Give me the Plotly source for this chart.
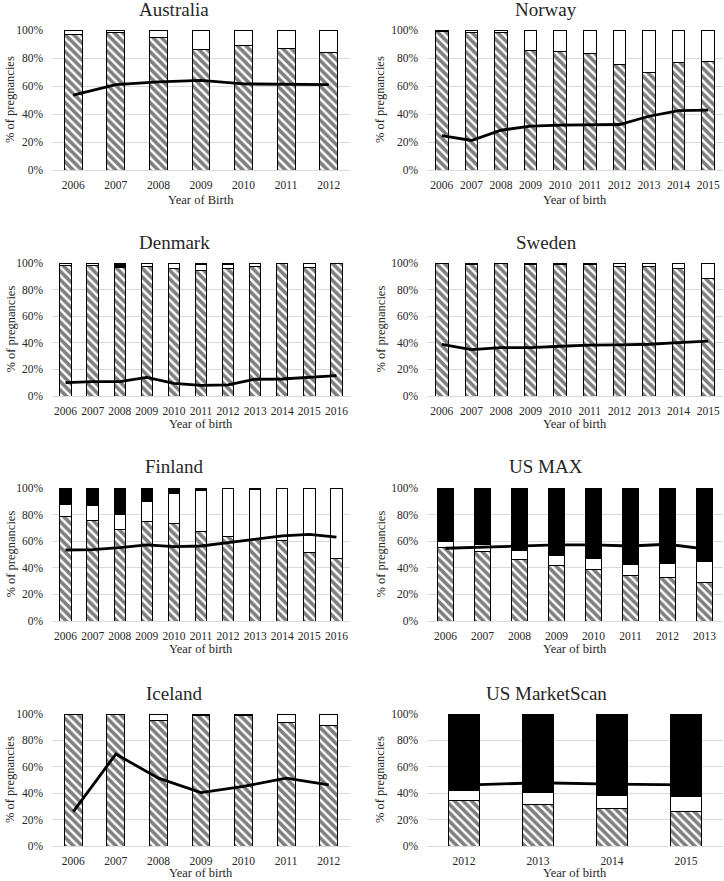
import plotly.graph_objects as go

# ---------------- data ----------------
au_years = ["2006", "2007", "2008", "2009", "2010", "2011", "2012"]
au_hatched = [97, 98.5, 94.5, 86, 89, 87, 84]
au_white = [3, 1.5, 5.5, 14, 11, 13, 16]
au_black = [0, 0, 0, 0, 0, 0, 0]
au_line = [53.5, 61, 63, 64, 61.5, 61.5, 61]

no_years = ["2006", "2007", "2008", "2009", "2010", "2011", "2012", "2013", "2014", "2015"]
no_hatched = [99, 98.5, 98.5, 85.5, 85, 83, 75.5, 69.5, 77, 77.5]
no_white = [1, 1.5, 1.5, 14.5, 15, 17, 24.5, 30.5, 23, 22.5]
no_black = [0, 0, 0, 0, 0, 0, 0, 0, 0, 0]
no_line = [24.6, 21.1, 28.4, 31.3, 32, 32, 32.5, 38.4, 42.4, 42.7]

dk_years = ["2006", "2007", "2008", "2009", "2010", "2011", "2012", "2013", "2014", "2015", "2016"]
dk_hatched = [98.5, 98, 96.5, 97.5, 95.5, 94.5, 95.5, 97.5, 99.5, 96.5, 99.5]
dk_white = [1.5, 1.5, 1, 2, 4.5, 4.5, 3.5, 2.5, 0.5, 3.5, 0.5]
dk_black = [0, 0.5, 2.5, 0.5, 0, 1, 1, 0, 0, 0, 0]
dk_line = [10, 10.8, 10.8, 14, 9.5, 8, 8.3, 12.6, 12.8, 14.3, 15.3]

se_years = ["2006", "2007", "2008", "2009", "2010", "2011", "2012", "2013", "2014", "2015"]
se_hatched = [99.5, 99, 99.5, 99, 99, 99, 97.5, 97.5, 96, 88.5]
se_white = [0.5, 1, 0.5, 1, 1, 1, 2.5, 2.5, 4, 11.5]
se_black = [0, 0, 0, 0, 0, 0, 0, 0, 0, 0]
se_line = [38.9, 34.9, 36.4, 36.4, 37.4, 38.2, 38.4, 38.9, 40.2, 41.2]

fi_years = ["2006", "2007", "2008", "2009", "2010", "2011", "2012", "2013", "2014", "2015", "2016"]
fi_hatched = [78.6, 75.6, 69, 74.8, 73.3, 67.3, 63.2, 61, 60.5, 51.4, 47.1]
fi_white = [9.1, 11.6, 11.4, 14.9, 22.2, 31.2, 36.8, 38, 39.5, 48.6, 52.9]
fi_black = [12.3, 12.8, 19.6, 10.3, 4.5, 1.5, 0, 1, 0, 0, 0]
fi_line = [53.4, 53.7, 55.2, 57.2, 55.9, 56.4, 58.9, 61.5, 64, 65.2, 63]

us_years = ["2006", "2007", "2008", "2009", "2010", "2011", "2012", "2013"]
us_hatched = [55.4, 52.6, 46.6, 42.1, 39, 34.5, 32.5, 29.2]
us_white = [4.6, 4.8, 6.5, 7.3, 7.9, 8.3, 10.8, 15.6]
us_black = [40, 42.6, 46.9, 50.6, 53.1, 57.2, 56.7, 55.2]
us_line = [54.7, 55.4, 56.4, 57.2, 57.2, 56.4, 57.7, 54.2]

is_years = ["2006", "2007", "2008", "2009", "2010", "2011", "2012"]
is_hatched = [100, 100, 95.4, 98.7, 98.7, 93.2, 91.1]
is_white = [0, 0, 4.6, 1.3, 1.3, 6.8, 8.9]
is_black = [0, 0, 0, 0, 0, 0, 0]
is_line = [26.1, 69.6, 51.4, 40.5, 45.1, 51.4, 46.3]

ms_years = ["2012", "2013", "2014", "2015"]
ms_hatched = [34.5, 31.5, 28.2, 25.9]
ms_white = [7.6, 9.3, 10.3, 11.6]
ms_black = [57.9, 59.2, 61.5, 62.5]
ms_line = [46.1, 47.9, 46.9, 46.3]

y_tick_vals = [0, 20, 40, 60, 80, 100]
y_tick_text = ["0%", "20%", "40%", "60%", "80%", "100%"]

panels = [
    ("Australia", "Year of Birth", au_years, au_hatched, au_white, au_black, au_line),
    ("Norway", "Year of birth", no_years, no_hatched, no_white, no_black, no_line),
    ("Denmark", "Year of birth", dk_years, dk_hatched, dk_white, dk_black, dk_line),
    ("Sweden", "Year of birth", se_years, se_hatched, se_white, se_black, se_line),
    ("Finland", "Year of birth", fi_years, fi_hatched, fi_white, fi_black, fi_line),
    ("US MAX", "Year of birth", us_years, us_hatched, us_white, us_black, us_line),
    ("Iceland", "Year of birth", is_years, is_hatched, is_white, is_black, is_line),
    ("US MarketScan", "Year of birth", ms_years, ms_hatched, ms_white, ms_black, ms_line),
]

# ---------------- layout geometry (pixels) ----------------
W, H = 724, 881
col_x = [(52, 350), (427, 723)]
row_y = [(30, 170), (263, 396), (488, 621), (714, 846)]
xtitle_offs = [30, 28, 28, 27]
title_off = 21

FONT = "Liberation Serif"
TXT = "#262626"

fig = go.Figure()
annotations = []
layout_axes = {}

for i, (name, xt, yrs, hat, wht, blk, ln) in enumerate(panels):
    r, c = divmod(i, 2)
    k = i + 1
    xa = "x" if k == 1 else f"x{k}"
    ya = "y" if k == 1 else f"y{k}"
    x0, x1 = col_x[c]
    yt, yb = row_y[r]
    common = dict(xaxis=xa, yaxis=ya, showlegend=False, hoverinfo="skip")
    fig.add_trace(go.Bar(
        x=yrs, y=hat,
        marker=dict(color="white", line=dict(color="black", width=1),
                    pattern=dict(shape="\\", fgcolor="black", bgcolor="white",
                                 size=6, solidity=0.6)),
        **common))
    fig.add_trace(go.Bar(
        x=yrs, y=wht,
        marker=dict(color="white", line=dict(color="black", width=1)),
        **common))
    fig.add_trace(go.Bar(
        x=yrs, y=blk,
        marker=dict(color="black", line=dict(color="black", width=1)),
        **common))
    fig.add_trace(go.Scatter(
        x=yrs, y=ln, mode="lines",
        line=dict(color="black", width=2.8),
        **common))

    layout_axes["xaxis" if k == 1 else f"xaxis{k}"] = dict(
        domain=[x0 / W, x1 / W], anchor=ya, type="category", automargin=False,
        showgrid=False, showline=True, linecolor="#d9d9d9", linewidth=1,
        ticks="", tickfont=dict(family=FONT, size=11.5, color=TXT),
        ticklabelstandoff=4)
    layout_axes["yaxis" if k == 1 else f"yaxis{k}"] = dict(
        domain=[1 - yb / H, 1 - yt / H], anchor=xa, range=[0, 100],
        automargin=False,
        tickmode="array", tickvals=y_tick_vals, ticktext=y_tick_text,
        showgrid=True, gridcolor="#d9d9d9",
        gridwidth=1, zeroline=False, showline=False, ticks="",
        tickfont=dict(family=FONT, size=11.5, color=TXT),
        ticklabelstandoff=8)

    # panel title, centered on the chart area
    chart_cx = (c * 362 + 174 + (10 if c == 1 else 0)) / W
    annotations.append(dict(
        text=name, x=chart_cx, y=1 - (yt - title_off) / H,
        xref="paper", yref="paper", showarrow=False,
        xanchor="center", yanchor="middle",
        font=dict(family=FONT, size=19, color=TXT)))
    # x axis title
    annotations.append(dict(
        text=xt, x=(x0 + x1) / 2 / W, y=1 - (yb + xtitle_offs[r]) / H,
        xref="paper", yref="paper", showarrow=False,
        xanchor="center", yanchor="middle",
        font=dict(family=FONT, size=12.5, color=TXT)))
    # y axis title
    annotations.append(dict(
        text="% of pregnancies", x=(c * 362 + (10 if c == 0 else 18)) / W,
        y=1 - (yt + yb) / 2 / H,
        xref="paper", yref="paper", showarrow=False, textangle=-90,
        xanchor="center", yanchor="middle",
        font=dict(family=FONT, size=12.5, color=TXT)))

fig.update_layout(
    width=W, height=H,
    margin=dict(l=0, r=0, t=0, b=0, pad=0),
    barmode="stack", bargap=0.58,
    plot_bgcolor="white", paper_bgcolor="white",
    annotations=annotations,
    **layout_axes)

fig.write_html(
    "out.html",
    config={"displayModeBar": False},
    post_script="document.body.style.margin='0';document.body.style.overflow='hidden';")
